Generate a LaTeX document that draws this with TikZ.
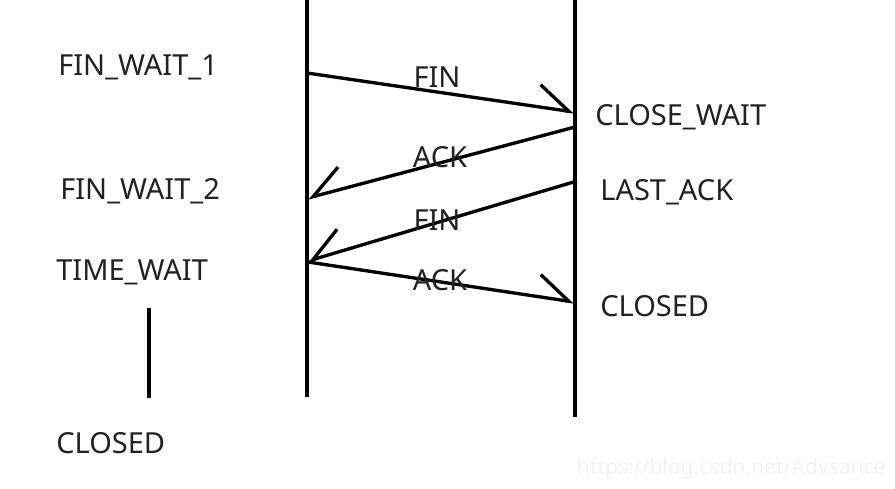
\documentclass[tikz,border=0pt]{standalone}
\usepackage{fontspec}
\setmainfont{Noto Sans}
\usetikzlibrary{arrows.meta}
\definecolor{statetext}{HTML}{222222}
\begin{document}
\begin{tikzpicture}[
    x=0.02cm, y=-0.02cm,
    state/.style={anchor=west, inner sep=0pt, text=statetext, font=\fontsize{16.5}{18}\selectfont},
    msg/.style={inner sep=0pt, text=statetext, font=\fontsize{16.5}{18}\selectfont},
    life/.style={line width=1.9pt},
    sendr/.style={line width=1.9pt, -{Straight Barb[left, angle=70:22pt]}},
    sendl/.style={line width=1.9pt, -{Straight Barb[right, angle=70:22pt]}}
  ]
  \useasboundingbox (0,0) rectangle (895,489);
  % lifelines
  \coordinate (ctop) at (307,0);
  \coordinate (cbot) at (307,397);
  \coordinate (stop) at (575,0);
  \coordinate (sbot) at (575,417);
  \draw[life] (ctop) -- (cbot);
  \draw[life] (stop) -- (sbot);
  % states
  \node[state] (finwaita) at (58,67) {FIN\_WAIT\_1};
  \node[state] (finwaitb) at (60,191) {FIN\_WAIT\_2};
  \node[state] (timewait) at (56,272) {TIME\_WAIT};
  \node[state] (cclosed) at (56,443) {CLOSED};
  \node[state] (closewait) at (595,117) {CLOSE\_WAIT};
  \node[state] (lastack) at (600,192) {LAST\_ACK};
  \node[state] (sclosed) at (600,306) {CLOSED};
  \coordinate (waittop) at (149,308);
  \coordinate (waitbot) at (149,398);
  \draw[life] (waittop) -- (waitbot);
  % segments
  \coordinate (c1) at (307,73);
  \coordinate (s1) at (574,112);
  \coordinate (s2) at (575,127);
  \coordinate (c2) at (308,198);
  \coordinate (s3) at (577,181);
  \coordinate (c3) at (308,261);
  \coordinate (c4) at (308,262);
  \coordinate (s4) at (574,302);
  \draw[sendr] (c1) -- (s1);
  \draw[sendl] (s2) -- (c2);
  \draw[sendl] (s3) -- (c3);
  \draw[sendr] (c4) -- (s4);
  \node[msg] (fina) at (437,77) {FIN};
  \node[msg] (acka) at (440,157) {ACK};
  \node[msg] (finb) at (437,220) {FIN};
  \node[msg] (ackb) at (440,280) {ACK};
  \node[anchor=east, inner sep=0pt, text=black!5, font=\fontsize{12}{14}\selectfont] (mark) at (886,469) {https://blog.csdn.net/Advsance};
\end{tikzpicture}
\end{document}
